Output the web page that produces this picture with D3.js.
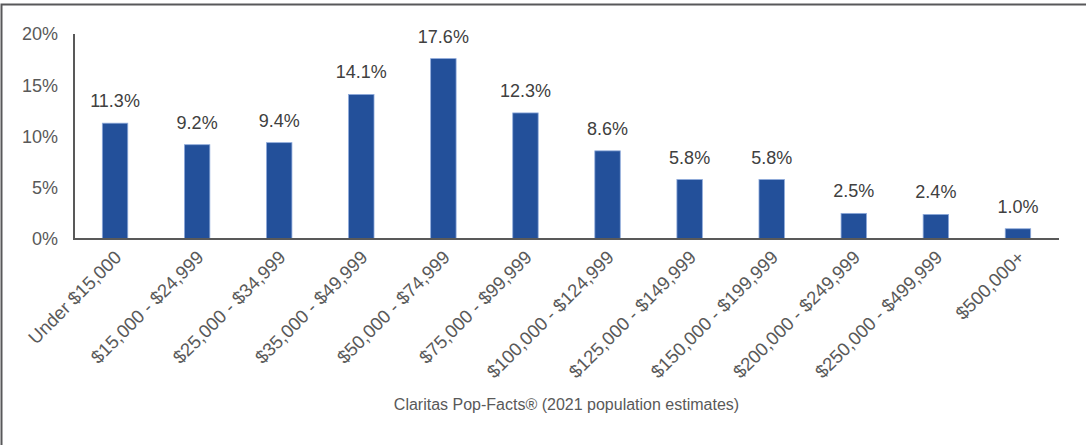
<!DOCTYPE html>
<html>
<head>
<meta charset="utf-8">
<script src="https://cdn.jsdelivr.net/npm/d3@7"></script>
<style>
    html, body { margin: 0; padding: 0; background: #fff; }
    svg { display: block; }
</style>
</head>
<body>
<svg id="chart"></svg>
<script>
// Household income distribution
const categories = [
    'Under $15,000', '$15,000 - $24,999', '$25,000 - $34,999', '$35,000 - $49,999',
    '$50,000 - $74,999', '$75,000 - $99,999', '$100,000 - $124,999', '$125,000 - $149,999',
    '$150,000 - $199,999', '$200,000 - $249,999', '$250,000 - $499,999', '$500,000+'
];
const shares = [11.3, 9.2, 9.4, 14.1, 17.6, 12.3, 8.6, 5.8, 5.8, 2.5, 2.4, 1.0];
const yTicks = [0, 5, 10, 15, 20];
const caption = 'Claritas Pop-Facts® (2021 population estimates)';

const COLORS = {
    bar: '#23509a',
    barEdge: '#8eaadb',
    axis: '#595959',
    tick: '#595959',
    label: '#404040',
    frame: '#58585a',
};
const FONT = 'Arial, "Liberation Sans", sans-serif';

const width = 1086;
const height = 445;
const margin = { top: 34, right: 27, bottom: 206, left: 74 };

const svg = d3.select('#chart').attr('width', width).attr('height', height);

// outer frame (left + top edges)
svg.append('path')
    .attr('d', `M1.5,${height} L1.5,4.5 L${width},4.5`)
    .attr('fill', 'none')
    .attr('stroke', COLORS.frame)
    .attr('stroke-width', 2);

const x = d3.scaleBand()
    .domain(categories)
    .range([margin.left, width - margin.right])
    .paddingInner(0.69)
    .paddingOuter(0.345);

const y = d3.scaleLinear()
    .domain([0, 20])
    .range([height - margin.bottom, margin.top]);

// y tick labels
svg.append('g')
    .selectAll('text')
    .data(yTicks)
    .enter()
    .append('text')
    .attr('x', 58)
    .attr('y', (d) => y(d))
    .attr('dy', '0.35em')
    .attr('text-anchor', 'end')
    .attr('font-family', FONT)
    .attr('font-size', '18px')
    .attr('fill', COLORS.tick)
    .text((d) => `${d}%`);

// bars
svg.append('g')
    .selectAll('rect')
    .data(shares)
    .enter()
    .append('rect')
    .attr('x', (d, i) => x(categories[i]))
    .attr('y', (d) => y(d))
    .attr('width', x.bandwidth())
    .attr('height', (d) => y(0) - y(d))
    .attr('fill', COLORS.bar)
    .attr('stroke', COLORS.barEdge)
    .attr('stroke-width', 0.8);

// value labels
svg.append('g')
    .selectAll('text')
    .data(shares)
    .enter()
    .append('text')
    .attr('x', (d, i) => x(categories[i]) + x.bandwidth() / 2)
    .attr('y', (d) => y(d) - 16)
    .attr('text-anchor', 'middle')
    .attr('font-family', FONT)
    .attr('font-size', '18px')
    .attr('fill', COLORS.label)
    .text((d) => `${d.toFixed(1)}%`);

// axes lines
svg.append('line')
    .attr('x1', margin.left).attr('x2', margin.left)
    .attr('y1', y(20)).attr('y2', y(0))
    .attr('stroke', COLORS.axis)
    .attr('stroke-width', 2);
svg.append('line')
    .attr('x1', margin.left - 1).attr('x2', width - margin.right)
    .attr('y1', y(0)).attr('y2', y(0))
    .attr('stroke', COLORS.axis)
    .attr('stroke-width', 2);

// category labels, rotated
svg.append('g')
    .selectAll('text')
    .data(categories)
    .enter()
    .append('text')
    .attr('transform', (d) => `translate(${x(d) + x.bandwidth() / 2 + 3}, ${y(0) + 15}) rotate(-45)`)
    .attr('text-anchor', 'end')
    .attr('dy', '0.35em')
    .attr('font-family', FONT)
    .attr('font-size', '18.5px')
    .attr('fill', COLORS.tick)
    .text((d) => d);

// caption
svg.append('text')
    .attr('x', (margin.left + width - margin.right) / 2)
    .attr('y', 410)
    .attr('text-anchor', 'middle')
    .attr('font-family', FONT)
    .attr('font-size', '16px')
    .attr('fill', COLORS.tick)
    .text(caption);
</script>
</body>
</html>
